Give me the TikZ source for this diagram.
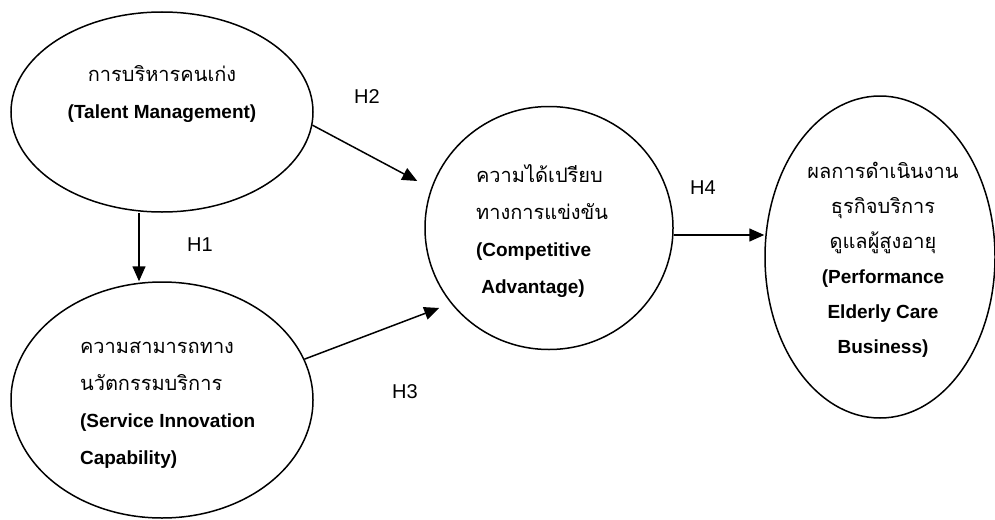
\documentclass[tikz,border=0pt]{standalone}
\usepackage{fontspec}
\setmainfont{Liberation Sans}
\newfontfamily\thaifont[Script=Thai]{Loma}
\newcommand{\thtxt}[1]{{\thaifont\fontsize{20}{37}\selectfont #1}}
\usetikzlibrary{shapes.geometric,arrows.meta}

\begin{document}
\begin{tikzpicture}[x=1pt,y=1pt,line width=1.5pt,>={Triangle[length=15pt,width=13pt]}]
	\useasboundingbox (0,0) rectangle (995,-519); % le cadre
	\tikzset{var/.style={draw,ellipse,inner sep=0pt},txt/.style={font=\fontsize{19}{37}\selectfont},hyp/.style={font=\fontsize{20}{22}\selectfont}}
	\node[var,minimum width=302pt,minimum height=200pt] (tm) at (162,-112) {}; % talent
	\node[var,minimum width=302pt,minimum height=236pt] (si) at (162,-400) {}; % innovation
	\node[var,minimum width=248pt,minimum height=243pt] (ca) at (549,-228) {}; % avantage
	\node[var,minimum width=230pt,minimum height=322pt] (pe) at (880,-257) {}; % performance
	\node[txt,align=center] (tmtxt) at (162,-94) {\thtxt{การบริหารคนเก่ง}\\\textbf{(Talent Management)}};
	\node[txt,align=left,anchor=west] (sitxt) at (76,-405) {\thtxt{ความสามารถทาง}\\\thtxt{นวัตกรรมบริการ}\\\textbf{(Service Innovation}\\\textbf{Capability)}};
	\node[txt,align=left,anchor=west] (catxt) at (472,-231) {\thtxt{ความได้เปรียบ}\\\thtxt{ทางการแข่งขัน}\\\textbf{(Competitive}\\\textbf{~Advantage)}};
	\node[txt,align=center,font=\fontsize{19}{35}\selectfont] (petxt) at (883,-260) {\thtxt{ผลการดำเนินงาน}\\\thtxt{ธุรกิจบริการ}\\\thtxt{ดูแลผู้สูงอายุ}\\\textbf{(Performance}\\\textbf{Elderly Care}\\\textbf{Business)}};
	\draw[->] ([xshift=-23pt]tm.south) -- ([xshift=-23pt]si.north); % H1
	\draw[->] (tm.-5) -- ([shift={(-7pt,47pt)}]ca.west); % H2
	\draw[->] (si.16) -- ([shift={(15pt,-80pt)}]ca.west); % H3
	\draw[->] ([yshift=-7pt]ca.east) -- ([yshift=-7pt]ca.east -| pe.west); % H4
	\node[hyp] (h1) at (200,-245) {H1};
	\node[hyp] (h2) at (367,-97) {H2};
	\node[hyp] (h3) at (405,-392) {H3};
	\node[hyp] (h4) at (703,-188) {H4};
\end{tikzpicture}
\end{document}
